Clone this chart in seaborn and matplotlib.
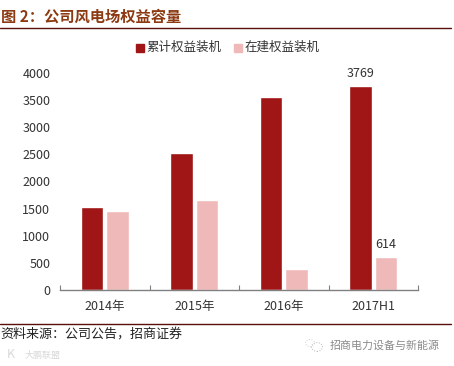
import pandas as pd
import matplotlib
matplotlib.use("Agg")
import matplotlib.pyplot as plt
from matplotlib.patches import Circle
import seaborn as sns

categories = ["2014年", "2015年", "2016年", "2017H1"]
built = [1530, 2530, 3560, 3769]
building = [1460, 1655, 390, 614]
series_names = ["累计权益装机", "在建权益装机"]
y_ticks = [0, 500, 1000, 1500, 2000, 2500, 3000, 3500, 4000]

sns.set_theme(style="white")
plt.rcParams['font.family'] = ['Noto Sans CJK SC', 'DejaVu Sans']

W, H = 454, 366
df = pd.DataFrame({
    "cat": categories * 2,
    "val": built + building,
    "series": [series_names[0]] * 4 + [series_names[1]] * 4,
})

fig = plt.figure(figsize=(W / 100, H / 100), dpi=100)
ax = fig.add_axes([60 / W, 1 - 290 / H, 358 / W, 217 / H])
sns.barplot(data=df, x="cat", y="val", hue="series", palette=["#A01515", "#F0B9B9"],
            width=0.572, gap=0.125, saturation=1, legend=False, ax=ax)
ax.set_xlim(-0.5, 3.5)
ax.set_ylim(0, 4000)
ax.set_xlabel("")
ax.set_ylabel("")
ax.set_yticks(y_ticks)
ax.tick_params(axis="y", length=0, labelsize=9, labelcolor="#333333", pad=7)
ax.tick_params(axis="x", which="major", length=0, labelsize=9, labelcolor="#333333", pad=7.5)
ax.set_xticks([-0.5, 0.5, 1.5, 2.5, 3.5], minor=True)
ax.tick_params(axis="x", which="minor", length=3.5, width=0.8, color="#808080", direction="in", bottom=True)
for s in ["top", "left", "right"]:
    ax.spines[s].set_visible(False)
ax.spines["bottom"].set_color("#808080")
ax.spines["bottom"].set_linewidth(1)

# labels on last two bars only
ax.text(3 - 0.143, built[3] + 95, str(built[3]), ha="center", va="bottom", fontsize=9, color="#333333")
ax.text(3 + 0.143, building[3] + 105, str(building[3]), ha="center", va="bottom", fontsize=9, color="#333333")


def px(x, y):
    return x / W, 1 - y / H


# legend drawn by hand so it sits where the original does
fig.patches.append(plt.Rectangle(px(136, 52), 8 / W, 8 / H, transform=fig.transFigure, color="#A01515"))
fig.patches.append(plt.Rectangle(px(234, 52), 8 / W, 8 / H, transform=fig.transFigure, color="#F0B9B9"))
fig.text(*px(146.5, 47), series_names[0], fontsize=9, color="#333333", va="center")
fig.text(*px(244.5, 47), series_names[1], fontsize=9, color="#333333", va="center")

# title, rules, source
fig.text(*px(1, 17), "图 2：公司风电场权益容量", fontsize=11, fontweight="bold", color="#8C3A12", va="center")
fig.add_artist(plt.Line2D([0, 451 / W], [1 - 27.5 / H] * 2, color="#5A0F0F", lw=1))
fig.add_artist(plt.Line2D([0, 451 / W], [1 - 324 / H] * 2, color="#5A0F0F", lw=1))
fig.text(*px(0, 334), "资料来源：公司公告，招商证券", fontsize=9.4, color="#222222", va="center")

# watermarks
fig.text(*px(330, 345.5), "招商电力设备与新能源", fontsize=7.9, color="#8a8a8a", va="center")
fig.text(*px(25, 355), "大鹏联盟", fontsize=6.5, color="#d8d8d8", va="center")
fig.text(*px(7, 355), "K", fontsize=9, color="#d8d8d8", va="center")
fig.add_artist(Circle(px(317, 347), 5.5 / W, transform=fig.transFigure, fill=False, ec="#b5b5b5", lw=0.7, ls=":"))
fig.add_artist(Circle(px(310, 343), 4.5 / W, transform=fig.transFigure, fill=False, ec="#cfcfcf", lw=0.7, ls=":"))

fig.savefig("out.png", dpi=100)
